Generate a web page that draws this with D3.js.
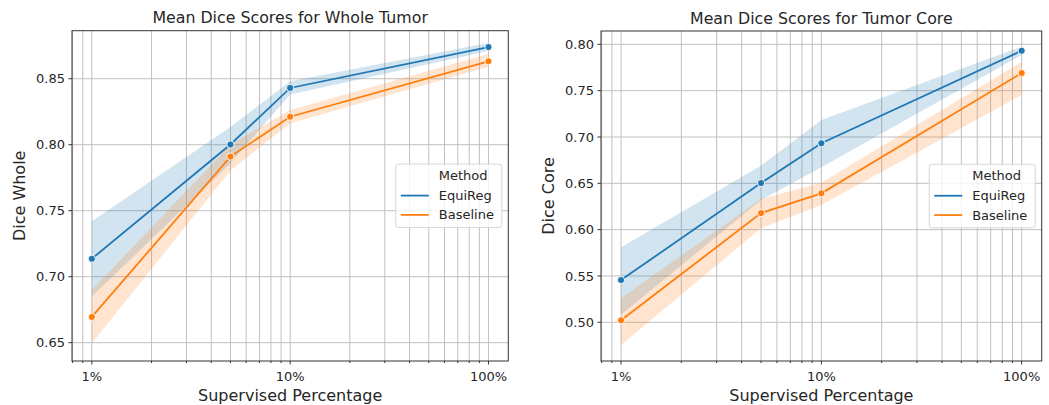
<!DOCTYPE html>
<html>
<head>
<meta charset="utf-8">
<script src="https://cdn.jsdelivr.net/npm/d3@7"></script>
<style>
  body { margin: 0; background: #fff; }
  svg { font-family: "DejaVu Sans", sans-serif; }
</style>
</head>
<body>
<div id="chart"></div>
<script>
const percentages = [1, 5, 10, 100];
const methods = ["EquiReg", "Baseline"];
const methodColors = ["#1f77b4", "#ff7f0e"];

// Whole tumor: mean and band edges per method
const wholeEquiReg = [0.7136, 0.8002, 0.843, 0.874];
const wholeEquiRegLo = [0.685, 0.786, 0.838, 0.871];
const wholeEquiRegHi = [0.742, 0.8135, 0.848, 0.877];
const wholeBaseline = [0.6695, 0.791, 0.8212, 0.8632];
const wholeBaselineLo = [0.6495, 0.7805, 0.8162, 0.8591];
const wholeBaselineHi = [0.690, 0.800, 0.8263, 0.8687];

// Tumor core
const coreEquiReg = [0.5456, 0.6503, 0.6932, 0.7931];
const coreEquiRegLo = [0.508, 0.632, 0.6673, 0.7885];
const coreEquiRegHi = [0.581, 0.669, 0.7183, 0.7975];
const coreBaseline = [0.5021, 0.6179, 0.6392, 0.769];
const coreBaselineLo = [0.4755, 0.6015, 0.6266, 0.7453];
const coreBaselineHi = [0.526, 0.633, 0.6507, 0.7812];

const wholeTicks = [0.65, 0.70, 0.75, 0.80, 0.85];
const coreTicks = [0.50, 0.55, 0.60, 0.65, 0.70, 0.75, 0.80];
const xTickLabels = ["1%", "10%", "100%"];

const width = 1049;
const height = 405;
const gridColor = "#c0c0c0";
const textColor = "#262626";

const svg = d3.select("#chart")
  .append("svg")
  .attr("width", width)
  .attr("height", height);

function series(mean, lo, hi) {
  return percentages.map((p, i) => ({ x: p, y: mean[i], lo: lo[i], hi: hi[i] }));
}

function drawPanel(opts) {
  const { left, right, top, bottom, yDomain, yTicks, title, yLabel, yLabelX, data } = opts;

  const x = d3.scaleLog()
    .domain([Math.pow(10, -0.1), Math.pow(10, 2.1)])
    .range([left, right]);
  const y = d3.scaleLinear().domain(yDomain).range([bottom, top]);

  const g = svg.append("g");

  // Grid: minor and major on x, major on y
  const xGridTicks = x.ticks();
  g.append("g")
    .selectAll("line")
    .data(xGridTicks)
    .join("line")
    .attr("x1", (d) => x(d))
    .attr("x2", (d) => x(d))
    .attr("y1", top)
    .attr("y2", bottom)
    .attr("stroke", gridColor)
    .attr("stroke-width", 1);
  g.append("g")
    .selectAll("line")
    .data(yTicks)
    .join("line")
    .attr("x1", left)
    .attr("x2", right)
    .attr("y1", (d) => y(d))
    .attr("y2", (d) => y(d))
    .attr("stroke", gridColor)
    .attr("stroke-width", 1);

  const area = d3.area()
    .x((d) => x(d.x))
    .y0((d) => y(d.lo))
    .y1((d) => y(d.hi));
  const line = d3.line()
    .x((d) => x(d.x))
    .y((d) => y(d.y));

  data.forEach((s, i) => {
    g.append("path")
      .datum(s)
      .attr("d", area)
      .attr("fill", methodColors[i])
      .attr("fill-opacity", 0.2);
  });
  data.forEach((s, i) => {
    g.append("path")
      .datum(s)
      .attr("d", line)
      .attr("fill", "none")
      .attr("stroke", methodColors[i])
      .attr("stroke-width", 1.8);
    g.append("g")
      .selectAll("circle")
      .data(s)
      .join("circle")
      .attr("cx", (d) => x(d.x))
      .attr("cy", (d) => y(d.y))
      .attr("r", 3.6)
      .attr("fill", methodColors[i])
      .attr("stroke", "#fff")
      .attr("stroke-width", 0.9);
  });

  // Frame
  g.append("rect")
    .attr("x", left)
    .attr("y", top)
    .attr("width", right - left)
    .attr("height", bottom - top)
    .attr("fill", "none")
    .attr("stroke", "#333")
    .attr("stroke-width", 1);

  // x ticks (major labelled, minor short)
  const majors = [1, 10, 100];
  g.append("g")
    .selectAll("line")
    .data(xGridTicks)
    .join("line")
    .attr("x1", (d) => x(d))
    .attr("x2", (d) => x(d))
    .attr("y1", bottom)
    .attr("y2", (d) => bottom + (majors.includes(d) ? 3.5 : 2))
    .attr("stroke", "#333");
  g.append("g")
    .selectAll("text")
    .data(majors)
    .join("text")
    .attr("x", (d) => x(d))
    .attr("y", bottom + 19.5)
    .attr("text-anchor", "middle")
    .attr("font-size", 13)
    .attr("fill", textColor)
    .text((d, i) => xTickLabels[i]);

  // y ticks
  g.append("g")
    .selectAll("line")
    .data(yTicks)
    .join("line")
    .attr("x1", left - 3.5)
    .attr("x2", left)
    .attr("y1", (d) => y(d))
    .attr("y2", (d) => y(d))
    .attr("stroke", "#333");
  g.append("g")
    .selectAll("text")
    .data(yTicks)
    .join("text")
    .attr("x", left - 7)
    .attr("y", (d) => y(d))
    .attr("dy", "0.36em")
    .attr("text-anchor", "end")
    .attr("font-size", 13)
    .attr("fill", textColor)
    .text((d) => d3.format(".2f")(d));

  // Titles
  g.append("text")
    .attr("x", (left + right) / 2)
    .attr("y", top - 7.5)
    .attr("text-anchor", "middle")
    .attr("font-size", 15.8)
    .attr("fill", textColor)
    .text(title);
  g.append("text")
    .attr("x", (left + right) / 2)
    .attr("y", bottom + 40)
    .attr("text-anchor", "middle")
    .attr("font-size", 16)
    .attr("fill", textColor)
    .text("Supervised Percentage");
  g.append("text")
    .attr("transform", `translate(${yLabelX},${(top + bottom) / 2}) rotate(-90)`)
    .attr("text-anchor", "middle")
    .attr("font-size", 16)
    .attr("fill", textColor)
    .text(yLabel);

  // Legend, centre right
  const lw = 106, lh = 63.5;
  const lx = right - 6.5 - lw;
  const ly = (top + bottom) / 2 - lh / 2;
  const legend = g.append("g").attr("transform", `translate(${lx},${ly})`);
  legend.append("rect")
    .attr("width", lw)
    .attr("height", lh)
    .attr("rx", 3)
    .attr("fill", "#fff")
    .attr("fill-opacity", 0.8)
    .attr("stroke", "#d6d6d6");
  legend.append("text")
    .attr("x", 43)
    .attr("y", 16)
    .attr("font-size", 13)
    .attr("fill", textColor)
    .text("Method");
  methods.forEach((m, i) => {
    const yy = 31.5 + i * 19.3;
    legend.append("line")
      .attr("x1", 5)
      .attr("x2", 33)
      .attr("y1", yy)
      .attr("y2", yy)
      .attr("stroke", methodColors[i])
      .attr("stroke-width", 1.8);
    legend.append("text")
      .attr("x", 43)
      .attr("y", yy + 4.5)
      .attr("font-size", 13)
      .attr("fill", textColor)
      .text(m);
  });
}

drawPanel({
  left: 72, right: 508.3, top: 30.7, bottom: 361,
  yDomain: [0.6361, 0.8864],
  yTicks: wholeTicks,
  title: "Mean Dice Scores for Whole Tumor",
  yLabel: "Dice Whole",
  yLabelX: 25,
  data: [
    series(wholeEquiReg, wholeEquiRegLo, wholeEquiRegHi),
    series(wholeBaseline, wholeBaselineLo, wholeBaselineHi),
  ],
});

drawPanel({
  left: 601, right: 1041.7, top: 31, bottom: 361,
  yDomain: [0.4582, 0.8144],
  yTicks: coreTicks,
  title: "Mean Dice Scores for Tumor Core",
  yLabel: "Dice Core",
  yLabelX: 554,
  data: [
    series(coreEquiReg, coreEquiRegLo, coreEquiRegHi),
    series(coreBaseline, coreBaselineLo, coreBaselineHi),
  ],
});
</script>
</body>
</html>
